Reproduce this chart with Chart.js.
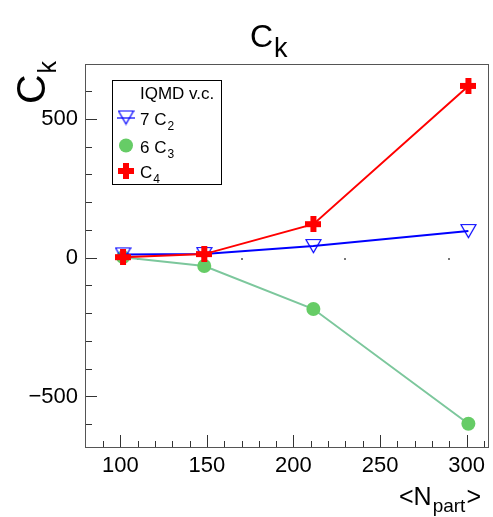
<!DOCTYPE html>
<html>
<head>
<meta charset="utf-8">
<script src="https://cdn.jsdelivr.net/npm/chart.js@4.4.1/dist/chart.umd.min.js"></script>
<style>
html,body{margin:0;padding:0;background:#fff;}
#c{display:block;}
</style>
</head>
<body>
<canvas id="c" width="493" height="517"></canvas>
<script>
// ---- data ----
const npart = [101.6, 148.5, 211.5, 301];
const c2x7  = [12, 13, 42, 96];
const c3x6  = [2, -30, -185, -598];
const c4    = [2, 13, 121, 619];
const xTickValues = [100, 150, 200, 250, 300];
const yTickValues = [-500, 0, 500];
const zeroDotsX = [110, 170, 230, 290];
const seriesNames = ['7 C|2', '6 C|3', 'C|4'];
const legendHeader = 'IQMD v.c.';
const titleMain = ['C', 'k'];
const titleY = ['C', 'k'];
const titleX = ['<N', 'part', '>'];

const FONT = "'Liberation Sans', Arial, Helvetica, sans-serif";
const BLUE = '#0000ff', RED = '#ff0000', GREEN_M = '#66cc66', GREEN_L = '#7cc79c';

function makePlus(size, arm, color) {
  const c = document.createElement('canvas');
  c.width = size; c.height = size;
  const g = c.getContext('2d');
  g.fillStyle = color;
  const o = (size - arm) / 2;
  g.fillRect(o, 0, arm, size);
  g.fillRect(0, o, size, arm);
  return c;
}
function makeTriDown(w, h, color) {
  const c = document.createElement('canvas');
  c.width = w + 2; c.height = h + 2;
  const g = c.getContext('2d');
  g.strokeStyle = color; g.lineWidth = 1.2;
  g.beginPath();
  g.moveTo(1, 1.5); g.lineTo(w + 1, 1.5); g.lineTo(w / 2 + 1, h + 0.5); g.closePath();
  g.stroke();
  return c;
}
const plusImg = makePlus(16, 6, RED);
const triImg = makeTriDown(15, 14, BLUE);

function pts(xs, ys) { return xs.map((x, i) => ({x: x, y: ys[i]})); }

const datasets = [
  {label: seriesNames[2], data: pts(npart, c4), borderColor: RED, borderWidth: 2,
   pointStyle: plusImg, pointRadius: 8, tension: 0},
  {label: seriesNames[0], data: pts(npart, c2x7), borderColor: BLUE, borderWidth: 2,
   pointStyle: triImg, pointRadius: 8, tension: 0},
  {label: seriesNames[1], data: pts(npart, c3x6), borderColor: GREEN_L, borderWidth: 2,
   pointStyle: 'circle', pointRadius: 7, pointBackgroundColor: GREEN_M, pointBorderColor: GREEN_M,
   pointBorderWidth: 0, tension: 0}
];

function drawSub(ctx, x, y, main, sub, mainSize, subSize, subDrop, tail) {
  ctx.font = mainSize + 'px ' + FONT;
  ctx.fillText(main, x, y);
  let w = ctx.measureText(main).width;
  ctx.font = subSize + 'px ' + FONT;
  ctx.fillText(sub, x + w + 1, y + subDrop);
  let w2 = ctx.measureText(sub).width;
  if (tail) {
    ctx.font = mainSize + 'px ' + FONT;
    ctx.fillText(tail, x + w + 1 + w2 + 1, y);
  }
}

const decor = {
  id: 'decor',
  beforeDatasetsDraw(chart) {
    const ctx = chart.ctx;
    const xs = chart.scales.x, ys = chart.scales.y;
    ctx.save();
    ctx.fillStyle = '#777';
    const y0 = Math.round(ys.getPixelForValue(0));
    zeroDotsX.forEach(v => { ctx.fillRect(Math.round(xs.getPixelForValue(v)) - 1, y0, 2, 2); });
    ctx.restore();
  },
  afterDraw(chart) {
    const ctx = chart.ctx, a = chart.chartArea;
    const xs = chart.scales.x, ys = chart.scales.y;
    ctx.save();
    // frame
    ctx.strokeStyle = '#555';
    ctx.lineWidth = 1;
    ctx.strokeRect(Math.round(a.left) - 0.5, Math.round(a.top) + 0.5, Math.round(a.right - a.left), Math.round(a.bottom - a.top));
    // x ticks (inside)
    ctx.strokeStyle = '#333';
    ctx.beginPath();
    for (let v = 90; v <= 310; v += 10) {
      const px = Math.round(xs.getPixelForValue(v)) + 0.5;
      const len = (v % 50 === 0) ? 12 : 6;
      ctx.moveTo(px, a.bottom); ctx.lineTo(px, a.bottom - len);
    }
    // y ticks (inside)
    for (let v = -600; v <= 600; v += 100) {
      const py = Math.round(ys.getPixelForValue(v)) + 0.5;
      const len = (v % 500 === 0) ? 11 : 6;
      ctx.moveTo(a.left, py); ctx.lineTo(a.left + len, py);
    }
    ctx.stroke();

    ctx.fillStyle = '#000';
    ctx.textBaseline = 'alphabetic';
    ctx.textAlign = 'left';
    // main title
    drawSub(ctx, 250, 47, titleMain[0], titleMain[1], 32, 27, 10);
    // x axis title (right aligned to axis end)
    ctx.font = '25px ' + FONT;
    const w1 = ctx.measureText(titleX[0]).width;
    ctx.font = '19px ' + FONT;
    const w2 = ctx.measureText(titleX[1]).width;
    ctx.font = '25px ' + FONT;
    const w3 = ctx.measureText(titleX[2]).width;
    const tot = w1 + w2 + w3 + 2;
    drawSub(ctx, 481 - tot, 505, titleX[0], titleX[1], 25, 19, 7, titleX[2]);
    // y axis title (rotated)
    ctx.save();
    ctx.translate(45, 104);
    ctx.rotate(-Math.PI / 2);
    drawSub(ctx, 0, 0, titleY[0], titleY[1], 41, 25, 11);
    ctx.restore();

    // legend
    const L = {x: 112, y: 80, w: 109, h: 104};
    ctx.fillStyle = '#fff';
    ctx.fillRect(L.x, L.y, L.w, L.h);
    ctx.strokeStyle = '#000';
    ctx.strokeRect(L.x + 0.5, L.y + 0.5, L.w, L.h);
    ctx.fillStyle = '#000';
    ctx.font = '17px ' + FONT;
    ctx.fillText(legendHeader, 140, 99);
    const rows = [117.5, 145.5, 171];
    ctx.drawImage(triImg, 126 - triImg.width / 2, rows[0] - triImg.height / 2);
    ctx.strokeStyle = BLUE; ctx.lineWidth = 1.2;
    ctx.beginPath(); ctx.moveTo(117, rows[0] + 0.5); ctx.lineTo(135, rows[0] + 0.5); ctx.stroke();
    ctx.fillStyle = GREEN_M;
    ctx.beginPath(); ctx.arc(126, rows[1], 7, 0, Math.PI * 2); ctx.fill();
    ctx.drawImage(plusImg, 126 - plusImg.width / 2, rows[2] - plusImg.height / 2);
    ctx.fillStyle = '#000';
    [0, 1, 2].forEach((k, i) => {
      const parts = seriesNames[k].split('|');
      drawSub(ctx, 140, rows[i] + 7, parts[0], parts[1], 17, 12, 5);
    });
    ctx.restore();
  }
};

new Chart(document.getElementById('c'), {
  type: 'line',
  data: {datasets: datasets},
  plugins: [decor],
  options: {
    responsive: false,
    animation: false,
    devicePixelRatio: 1,
    layout: {autoPadding: false, padding: {top: 64, right: 4, left: 0, bottom: 0}},
    plugins: {legend: {display: false}, title: {display: false}, tooltip: {enabled: false}},
    scales: {
      x: {
        type: 'linear', min: 80.2, max: 312.9, position: 'bottom',
        grid: {display: false, drawTicks: false}, border: {display: false},
        ticks: {font: {family: FONT, size: 22}, color: '#000', padding: 6, includeBounds: false,
                autoSkip: false, maxRotation: 0},
        afterBuildTicks: s => { s.ticks = xTickValues.map(v => ({value: v})); },
        afterFit: s => { s.height = 70; s.paddingLeft = 0; s.paddingRight = 0; }
      },
      y: {
        type: 'linear', min: -682, max: 698,
        grid: {display: false, drawTicks: false}, border: {display: false},
        ticks: {font: {family: FONT, size: 22}, color: '#000', padding: 8, includeBounds: false,
                callback: v => String(v).replace('-', '\u2212')},
        afterBuildTicks: s => { s.ticks = yTickValues.map(v => ({value: v})); },
        afterFit: s => { s.width = 86; s.paddingTop = 0; s.paddingBottom = 0; }
      }
    }
  }
});
</script>
</body>
</html>
